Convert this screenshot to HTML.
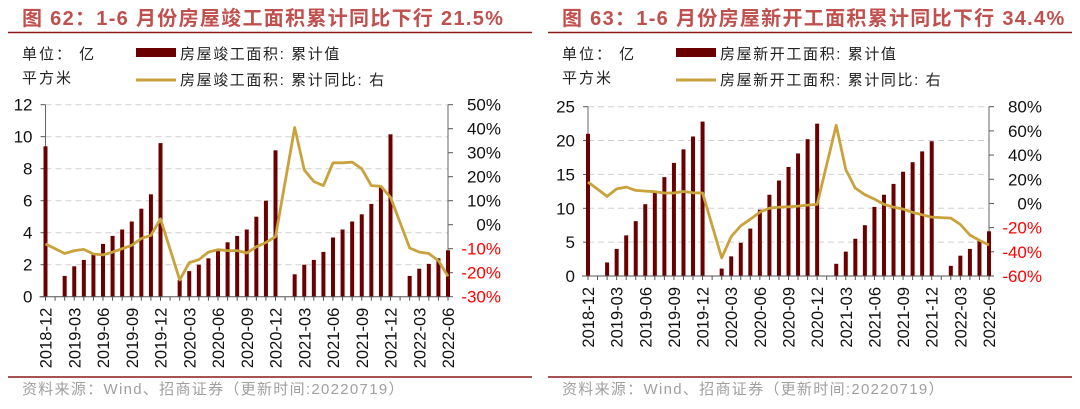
<!DOCTYPE html>
<html><head><meta charset="utf-8">
<style>
html,body{margin:0;padding:0;background:#fff;}
body{width:1080px;height:404px;overflow:hidden;font-family:"Liberation Sans","Noto Sans CJK SC",sans-serif;}
svg text{font-family:"Liberation Sans","Noto Sans CJK SC",sans-serif;}
</style></head>
<body>
<svg id="svg" width="1080" height="404" xmlns="http://www.w3.org/2000/svg"></svg>
<script>
// ---- data ----
const months = ["2018-12","2019-01","2019-02","2019-03","2019-04","2019-05","2019-06","2019-07","2019-08","2019-09","2019-10","2019-11","2019-12","2020-01","2020-02","2020-03","2020-04","2020-05","2020-06","2020-07","2020-08","2020-09","2020-10","2020-11","2020-12","2021-01","2021-02","2021-03","2021-04","2021-05","2021-06","2021-07","2021-08","2021-09","2021-10","2021-11","2021-12","2022-01","2022-02","2022-03","2022-04","2022-05","2022-06"];
const xTickLabels = ["2018-12","2019-03","2019-06","2019-09","2019-12","2020-03","2020-06","2020-09","2020-12","2021-03","2021-06","2021-09","2021-12","2022-03","2022-06"];
const completedArea = [9.4,null,1.3,1.9,2.3,2.7,3.3,3.8,4.2,4.7,5.5,6.4,9.6,null,1.05,1.6,2.0,2.4,2.9,3.4,3.8,4.2,5.0,6.0,9.15,null,1.4,2.0,2.3,2.8,3.7,4.2,4.7,5.15,5.8,6.9,10.15,null,1.3,1.75,2.05,2.4,2.9];
const completedYoY = [-8,null,-12,-10.8,-10.3,-12.2,-12.6,-11.4,-10,-8.6,-5.7,-4.4,2.4,null,-23,-15.8,-14.6,-11.4,-10.4,-10.8,-10.8,-11.8,-9.2,-7.4,-5,null,40.5,22.8,18,16.3,25.8,25.8,26.1,23.3,16.3,16,11.4,null,-9.7,-11.4,-12,-15,-21.5];
const leftTicksL = [0,2,4,6,8,10,12];
const leftTicksR = [-30,-20,-10,0,10,20,30,40,50];
const newStartArea = [21,null,2,4,6,8.1,10.6,12.6,14.6,16.7,18.7,20.6,22.8,null,1.1,2.9,4.9,7.0,9.8,12.0,14.1,16.1,18.1,20.2,22.5,null,1.8,3.6,5.5,7.5,10.2,12.0,13.6,15.4,16.8,18.4,19.9,null,1.5,3.0,4.0,5.2,6.6];
const newStartYoY = [17.7,null,5.8,12,13.5,10.8,10.2,9.7,8.6,8.6,9.9,8.8,8.6,null,-45,-27.3,-18.5,-13,-7.2,-3.9,-3,-2.8,-2.2,-1.4,-0.8,null,64.6,28,12.7,7.2,3.6,-0.8,-3,-4.7,-7.4,-9.4,-11.3,null,-12.1,-17.4,-26.2,-30.6,-34.4];
const rightTicksL = [0,5,10,15,20,25];
const rightTicksR = [-60,-40,-20,0,20,40,60,80];

const NS="http://www.w3.org/2000/svg";
const svg=document.getElementById('svg');
function mk(tag,attrs,parent,text){const e=document.createElementNS(NS,tag);for(const k in attrs)e.setAttribute(k,attrs[k]);if(text!==undefined)e.textContent=text;(parent||svg).appendChild(e);return e;}

function panel(o){
  const g=mk('g',{});
  
  
  const t=mk('text',{x:o.x0+22,y:25,'font-size':20,'font-weight':'bold',fill:'#c0504d','letter-spacing':'1.3'},g,o.title);
  
  
  const hl=mk('line',{x1:o.x0+8,x2:o.x0+532,y1:32.5,y2:32.5,stroke:'#8b1a1a','stroke-width':1.5},g);
  
  
  const u1=mk('text',{x:o.x0+22,y:59,'font-size':15,fill:'#222','letter-spacing':'2'},g,'单位： 亿');
  
  
  const u2=mk('text',{x:o.x0+22,y:83,'font-size':15,fill:'#222','letter-spacing':'2'},g,'平方米');
  
  
  const lb=mk('rect',{x:o.x0+136,y:48,width:40,height:9,fill:'#6b0000'},g);
  
  
  const lt1=mk('text',{x:o.x0+180,y:59,'font-size':15,fill:'#222','letter-spacing':'1.6'},g,o.leg1);
  
  
  const ll=mk('line',{x1:o.x0+136,x2:o.x0+176,y1:80,y2:80,stroke:'#c9a23c','stroke-width':3},g);
  
  
  const lt2=mk('text',{x:o.x0+180,y:85,'font-size':15,fill:'#222','letter-spacing':'1.6'},g,o.leg2);
  
  

  const n=months.length;
  const xs=i=>o.xa+(o.xb-o.xa)*i/(n-1);
  const yL=v=>o.yBot-(v-o.lMin)/(o.lMax-o.lMin)*(o.yBot-o.yTop);
  const yR=v=>o.yBot-(v-o.rMin)/(o.rMax-o.rMin)*(o.yBot-o.yTop);
  o.ticksL.forEach(v=>{
    if(v!==o.lMin){const gl=mk('line',{x1:o.xa,x2:o.xb,y1:yL(v),y2:yL(v),stroke:'#d0d0d0','stroke-dasharray':'6,4','stroke-width':1},g);
    
    }
    const tl=mk('text',{x:o.xa-13,y:yL(v)+6,'font-size':17,'text-anchor':'end',fill:'#111'},g,String(v));
    
    
    mk('line',{x1:o.xa-5,x2:o.xa,y1:yL(v),y2:yL(v),stroke:'#555'},g);
  });
  o.ticksR.forEach(v=>{
    const tl=mk('text',{x:o.xb+53,y:yR(v)+6,'font-size':17,'text-anchor':'end',fill:v<0?'#ff0000':'#111'},g,v+'%');
    
    
    mk('line',{x1:o.xb,x2:o.xb+5,y1:yR(v),y2:yR(v),stroke:'#555'},g);
  });
  const al=mk('line',{x1:o.xa,x2:o.xa,y1:o.yTop,y2:o.yBot,stroke:'#666'},g);
  
  
  const ar=mk('line',{x1:o.xb,x2:o.xb,y1:o.yTop,y2:o.yBot,stroke:'#666'},g);
  
  
  o.bars.forEach((v,i)=>{
    if(v==null)return;
    const b=mk('rect',{x:xs(i)-2,y:yL(v),width:4,height:o.yBot-yL(v),fill:'#6b0000'},g);
    
    
  });
  const ax=mk('line',{x1:o.xa-6,x2:o.xb,y1:o.yBot,y2:o.yBot,stroke:'#555'},g);
  
  
  for(let i=0;i<n;i++)mk('line',{x1:xs(i),x2:xs(i),y1:o.yBot,y2:o.yBot+4,stroke:'#555'},g);
  let d='';o.line.forEach((v,i)=>{if(v==null)return;d+=(d?'L':'M')+xs(i).toFixed(1)+','+yR(v).toFixed(1);});
  const p=mk('path',{d:d,fill:'none',stroke:'#c9a23c','stroke-width':2.8,'stroke-linejoin':'round'},g);
  
  
  xTickLabels.forEach(lab=>{
    const i=months.indexOf(lab);const x=xs(i);
    const tx=mk('text',{x:0,y:0,'font-size':16.5,'text-anchor':'end',fill:'#111',transform:`translate(${x+6},${o.yBot+11}) rotate(-90)`},g,lab);
    
    
  });
  const bl=mk('line',{x1:o.x0+8,x2:o.x0+532,y1:377,y2:377,stroke:'#8b1a1a','stroke-width':1.5},g);
  
  
  const src=mk('text',{x:o.x0+22,y:394,'font-size':15,fill:'#a0a0a0','letter-spacing':'1.3'},g,'资料来源：Wind、招商证券（更新时间:20220719）');
  
  
}

panel({name:'completed-area-chart',x0:0,title:'图 62：1-6 月份房屋竣工面积累计同比下行 21.5%',leg1:'房屋竣工面积: 累计值',leg2:'房屋竣工面积: 累计同比: 右',
  xa:45.5,xb:448,yTop:104.7,yBot:296.7,lMin:0,lMax:12,rMin:-30,rMax:50,ticksL:leftTicksL,ticksR:leftTicksR,bars:completedArea,line:completedYoY});
panel({name:'new-start-area-chart',x0:540,title:'图 63：1-6 月份房屋新开工面积累计同比下行 34.4%',leg1:'房屋新开工面积: 累计值',leg2:'房屋新开工面积: 累计同比: 右',
  xa:588,xb:989,yTop:106.7,yBot:276,lMin:0,lMax:25,rMin:-60,rMax:80,ticksL:rightTicksL,ticksR:rightTicksR,bars:newStartArea,line:newStartYoY});
</script>
</body></html>
